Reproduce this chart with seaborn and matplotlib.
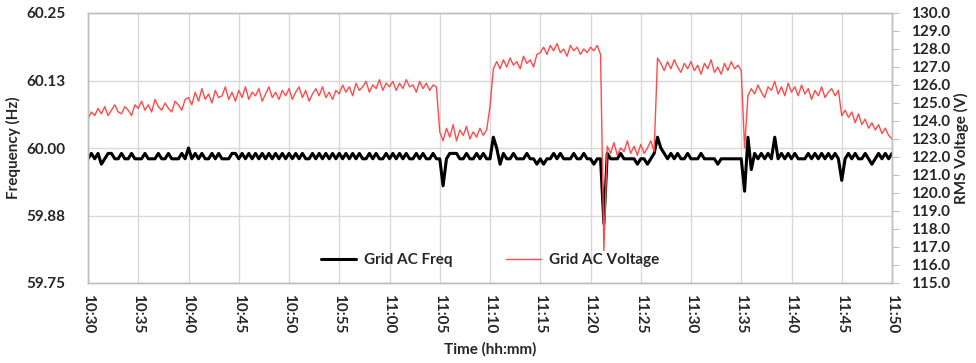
import numpy as np
import pandas as pd
import matplotlib
matplotlib.use("Agg")
import matplotlib.pyplot as plt
from matplotlib.lines import Line2D
import seaborn as sns

# ---- data (20-second samples, 10:30:00 .. 11:50:00) ----
START = "2000-01-01 10:30:00"
END = "2000-01-01 11:50:00"

voltage = [
    124.1, 124.5, 124.3, 124.7, 124.4, 124.8, 124.3, 124.6, 124.9, 124.5, 124.4, 124.8, 124.6, 124.3, 124.9,
    124.7, 125.1, 124.6, 124.9, 124.5, 125.2, 124.8, 124.6, 125.0, 124.7, 124.5, 125.1, 124.9, 124.6, 125.2,
    125.3, 124.9, 125.6, 125.1, 125.8, 125.2, 125.5, 125.0, 125.7, 125.3, 125.4, 125.9, 125.2, 125.6, 125.1,
    125.7, 125.3, 125.9, 125.2, 125.6, 125.4, 125.8, 125.1, 125.5, 125.9, 125.3, 125.6, 125.2, 125.7, 125.4,
    125.8, 125.2, 125.6, 125.9, 125.3, 125.7, 125.1, 125.5, 125.8, 125.4, 125.9, 125.3, 125.6, 125.2, 125.7,
    125.5, 126.0, 125.6, 125.9, 125.4, 126.1, 125.7, 125.9, 126.2, 125.6, 126.0, 125.8, 126.3, 125.7, 126.1,
    125.9, 126.2, 125.7, 126.1, 125.8, 126.3, 125.9, 126.0, 125.6, 126.2, 125.8, 126.1, 125.7, 126.0, 125.9,
    123.4, 122.9, 123.6, 123.1, 123.8, 122.9, 123.5, 123.2, 123.7, 123.0, 123.4, 123.1, 123.6, 123.2, 123.5,
    124.8, 126.9, 127.3, 126.9, 127.4, 127.0, 127.5, 127.1, 127.3, 126.9, 127.6, 127.2, 127.4, 127.0, 127.7,
    127.8, 128.1, 127.7, 128.2, 127.9, 128.3, 127.8, 128.0, 127.6, 128.2, 127.9, 128.1, 127.7, 128.0, 127.8,
    128.1, 127.9, 128.2, 127.7, 116.8, 122.6, 122.2, 122.8, 122.1, 122.5, 122.3, 122.9, 122.2, 122.6, 122.1,
    122.7, 122.2, 122.5, 122.9, 122.3, 127.5, 127.2, 126.8, 127.3, 126.9, 127.4, 127.0, 126.7, 127.2, 126.9,
    127.3, 126.8, 127.1, 126.6, 127.2, 126.9, 127.4, 126.7, 127.0, 126.6, 127.2, 126.8, 127.3, 126.9, 127.1,
    126.8, 122.5, 125.4, 125.8, 125.5, 126.0, 125.6, 125.3, 125.9, 125.7, 126.2, 125.5, 125.9, 125.4, 126.1,
    125.6, 125.9, 125.4, 126.0, 125.5, 125.8, 125.2, 125.7, 125.4, 125.9, 125.3, 125.6, 125.8, 125.4, 125.7,
    124.3, 124.6, 124.2, 124.5, 123.9, 124.4, 123.8, 124.1, 123.6, 123.9, 123.5, 123.8, 123.3, 123.6, 123.2,
    123.0,
]

frequency = [
    59.98, 59.99, 59.98, 59.99, 59.97, 59.98, 59.99, 59.99, 59.98, 59.98, 59.99, 59.98, 59.98, 59.99, 59.98,
    59.98, 59.98, 59.99, 59.98, 59.98, 59.98, 59.99, 59.98, 59.98, 59.99, 59.98, 59.98, 59.98, 59.99, 59.98,
    60.00, 59.98, 59.99, 59.98, 59.99, 59.98, 59.98, 59.99, 59.98, 59.99, 59.98, 59.98, 59.98, 59.99, 59.99,
    59.98, 59.99, 59.98, 59.99, 59.98, 59.99, 59.98, 59.99, 59.98, 59.99, 59.98, 59.99, 59.98, 59.99, 59.98,
    59.99, 59.98, 59.99, 59.98, 59.99, 59.98, 59.98, 59.99, 59.98, 59.99, 59.98, 59.99, 59.98, 59.99, 59.98,
    59.99, 59.98, 59.99, 59.98, 59.99, 59.98, 59.99, 59.98, 59.98, 59.99, 59.98, 59.99, 59.98, 59.98, 59.99,
    59.98, 59.99, 59.98, 59.99, 59.98, 59.99, 59.98, 59.98, 59.99, 59.98, 59.99, 59.98, 59.98, 59.99, 59.98,
    59.98, 59.93, 59.98, 59.99, 59.99, 59.99, 59.98, 59.98, 59.99, 59.98, 59.98, 59.99, 59.98, 59.99, 59.98,
    59.98, 60.02, 60.00, 59.97, 59.99, 59.98, 59.98, 59.99, 59.98, 59.98, 59.98, 59.99, 59.98, 59.98, 59.97,
    59.98, 59.97, 59.98, 59.98, 59.99, 59.98, 59.99, 59.98, 59.98, 59.98, 59.99, 59.98, 59.98, 59.99, 59.98,
    59.98, 59.97, 59.98, 59.98, 59.86, 59.99, 59.98, 59.98, 59.98, 59.99, 59.98, 59.98, 59.98, 59.98, 59.97,
    59.98, 59.98, 59.97, 59.98, 59.99, 60.02, 60.00, 59.99, 59.98, 59.99, 59.98, 59.99, 59.98, 59.98, 59.99,
    59.98, 59.98, 59.98, 59.99, 59.98, 59.98, 59.98, 59.98, 59.97, 59.98, 59.98, 59.98, 59.98, 59.98, 59.98,
    59.98, 59.92, 60.02, 59.96, 59.99, 59.98, 59.99, 59.98, 59.99, 59.98, 60.02, 59.98, 59.99, 59.98, 59.99,
    59.98, 59.99, 59.98, 59.98, 59.98, 59.99, 59.98, 59.99, 59.98, 59.99, 59.98, 59.99, 59.98, 59.99, 59.98,
    59.94, 59.98, 59.99, 59.98, 59.99, 59.98, 59.98, 59.99, 59.98, 59.97, 59.98, 59.99, 59.98, 59.99, 59.98,
    59.99,
]

x_tick_labels = ["10:30", "10:35", "10:40", "10:45", "10:50", "10:55", "11:00", "11:05",
                 "11:10", "11:15", "11:20", "11:25", "11:30", "11:35", "11:40", "11:45", "11:50"]
freq_ticks = [59.75, 59.875, 60.0, 60.125, 60.25]
freq_tick_labels = ["59.75", "59.88", "60.00", "60.13", "60.25"]
volt_ticks = [115.0, 116.0, 117.0, 118.0, 119.0, 120.0, 121.0, 122.0, 123.0, 124.0,
              125.0, 126.0, 127.0, 128.0, 129.0, 130.0]

time = pd.date_range(START, END, freq="20s")
df = pd.DataFrame({"time": time, "freq": frequency, "volt": voltage})

# ---- style ----
sns.set_style("white")
plt.rcParams["font.family"] = ["Lato", "DejaVu Sans"]

fig = plt.figure(figsize=(9.76, 3.63), dpi=100)
ax = fig.add_axes([88 / 976, 1 - 283 / 363, (892 - 88) / 976, (283 - 13) / 363])
ax2 = ax.twinx()

sns.lineplot(data=df, x="time", y="freq", ax=ax, color="black", linewidth=2.2,
             legend=False)
sns.lineplot(data=df, x="time", y="volt", ax=ax2, color="#ff4a4a", linewidth=1.0,
             legend=False)

# x axis
tick_times = pd.date_range(START, END, freq="5min")
ax.set_xlim(time[0], time[-1])
ax.set_xticks(tick_times)
ax.set_xticklabels(x_tick_labels, rotation=-90, fontsize=11, fontweight="bold")
ax.set_xlabel("Time (hh:mm)", fontsize=11, fontweight="bold", labelpad=6)

# left axis
ax.set_ylim(59.75, 60.25)
ax.set_yticks(freq_ticks)
ax.set_yticklabels(freq_tick_labels, fontsize=11, fontweight="bold")
ax.set_ylabel("Frequency (Hz)", fontsize=11, fontweight="bold", labelpad=4)
ax.tick_params(axis="y", length=0, pad=16)
ax.tick_params(axis="x", length=4, color="#bfbfbf", pad=4)

# right axis
ax2.set_ylim(115, 130)
ax2.set_yticks(volt_ticks)
ax2.set_yticklabels([f"{v:.1f}" for v in volt_ticks], fontsize=11, fontweight="bold")
ax2.set_ylabel("RMS Voltage (V)", fontsize=11, fontweight="bold", labelpad=2)
ax2.tick_params(axis="y", length=5, color="#bfbfbf", pad=9)

ax.grid(True, color="#d9d9d9", linewidth=1.0)
ax.set_axisbelow(True)
for a in (ax, ax2):
    for s in a.spines.values():
        s.set_color("#bfbfbf")
        s.set_linewidth(1.0)

handles = [Line2D([], [], color="black", linewidth=2.2),
           Line2D([], [], color="#ff4a4a", linewidth=1.0)]
leg = ax2.legend(handles, ["Grid AC Freq", "Grid AC Voltage"], loc="center",
                 bbox_to_anchor=(0.5, 0.085), ncol=2, frameon=False,
                 handlelength=2.3, columnspacing=3.5, handletextpad=0.5,
                 prop={"size": 11, "weight": "bold"})

fig.savefig("out.png", dpi=100)
